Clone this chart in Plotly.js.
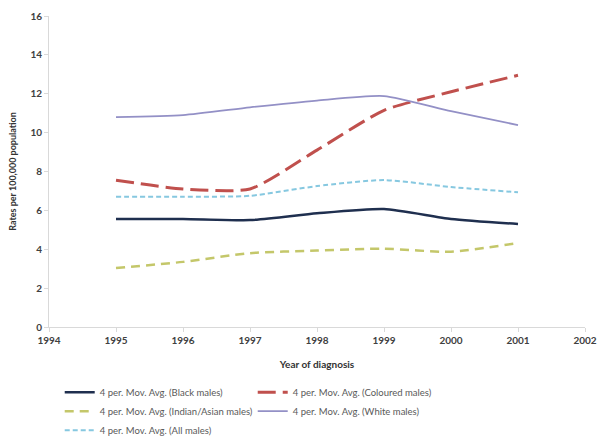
<!DOCTYPE html>
<html>
<head>
<meta charset="utf-8">
<script src="https://cdn.plot.ly/plotly-3.0.1.min.js"></script>
<style>html,body{margin:0;padding:0;background:#fff;}#chart{width:598px;height:443px;}</style>
</head>
<body>
<div id="chart"></div>
<script>
var years = [1995, 1996, 1997, 1998, 1999, 2000, 2001];
var blackMales = [5.56, 5.56, 5.5, 5.85, 6.07, 5.56, 5.3];
var colouredMales = [7.55, 7.1, 7.1, 9.1, 11.15, 12.1, 12.95];
var indianAsianMales = [3.03, 3.35, 3.8, 3.93, 4.03, 3.87, 4.32];
var whiteMales = [10.8, 10.9, 11.3, 11.65, 11.88, 11.1, 10.39];
var allMales = [6.7, 6.7, 6.75, 7.25, 7.56, 7.2, 6.93];
var seriesNames = [
  "4 per. Mov. Avg. (Black males)",
  "4 per. Mov. Avg. (Coloured males)",
  "4 per. Mov. Avg. (Indian/Asian males)",
  "4 per. Mov. Avg. (White males)",
  "4 per. Mov. Avg. (All males)"
];

function tr(y, name, color, width, dash) {
  return {x: years, y: y, name: name, type: 'scatter', mode: 'lines',
    line: {color: color, width: width, dash: dash, shape: 'spline', smoothing: 0.6}};
}
var data = [
  tr(blackMales, seriesNames[0], '#1f2f4f', 2.5, 'solid'),
  tr(colouredMales, seriesNames[1], '#c0504d', 3, '18px,7px'),
  tr(indianAsianMales, seriesNames[2], '#c4c76a', 2.5, '9px,6px'),
  tr(whiteMales, seriesNames[3], '#9390c6', 1.8, 'solid'),
  tr(allMales, seriesNames[4], '#86c8e0', 2, '5px,3px')
];
var tickFont = {family: 'Lato, "Liberation Sans", sans-serif', size: 10, color: '#404040', weight: 'bold'};
var layout = {
  width: 598, height: 443,
  margin: {l: 49, r: 13, t: 16, b: 116, autoexpand: false},
  paper_bgcolor: '#fff', plot_bgcolor: '#fff',
  showlegend: true,
  xaxis: {
    range: [1994, 2002], dtick: 1, tick0: 1994, showgrid: false, zeroline: false,
    showline: true, linecolor: '#d9d9d9', linewidth: 1,
    ticks: 'outside', ticklen: 4, tickcolor: '#d9d9d9',
    tickfont: tickFont,
    title: {text: 'Year of diagnosis', font: {family: 'Lato, "Liberation Sans", sans-serif', size: 10, color: '#333', weight: 'bold'}, standoff: 15}
  },
  yaxis: {
    range: [0, 16], dtick: 2, showgrid: false, zeroline: false,
    showline: true, linecolor: '#d9d9d9', linewidth: 1,
    ticks: 'outside', ticklen: 4, tickcolor: '#d9d9d9',
    tickfont: tickFont,
    title: {text: 'Rates per 100,000 population', font: {family: 'Lato, "Liberation Sans", sans-serif', size: 9, color: '#333', weight: 'bold'}, standoff: 12}
  },
  legend: {
    orientation: 'h', x: 0.02, xanchor: 'left', y: -0.163, yanchor: 'top',
    font: {family: 'Lato, "Liberation Sans", sans-serif', size: 9.5, color: '#595959'},
    entrywidth: 148, tracegroupgap: 0, itemwidth: 30
  }
};
Plotly.newPlot('chart', data, layout, {displayModeBar: false, staticPlot: true});
</script>
</body>
</html>
